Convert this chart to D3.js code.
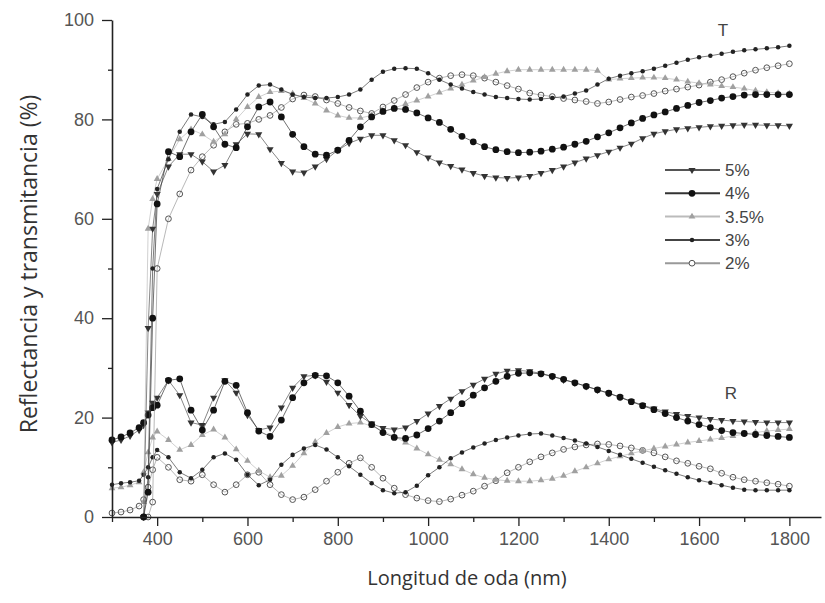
<!DOCTYPE html>
<html>
<head>
<meta charset="utf-8">
<script src="https://cdn.jsdelivr.net/npm/d3@7/dist/d3.min.js"></script>
<style>
  html, body { margin: 0; padding: 0; background: #fff; }
  svg { display: block; }
</style>
</head>
<body>
<svg id="chart" width="825" height="603"></svg>
<script>
// Wavelength grid (nm) shared by every curve
const wavelength = [
  300, 320, 340, 360, 370, 380, 390, 400,
  425, 450, 475, 500, 525, 550, 575, 600, 625, 650,
  675, 700, 725, 750, 775, 800, 825, 850, 875, 900,
  925, 950, 975, 1000, 1025, 1050, 1075, 1100, 1125, 1150,
  1175, 1200, 1225, 1250, 1275, 1300, 1325, 1350, 1375, 1400,
  1425, 1450, 1475, 1500, 1525, 1550, 1575, 1600, 1625, 1650,
  1675, 1700, 1725, 1750, 1775, 1800
];

const concentrations = ["5%", "4%", "3.5%", "3%", "2%"];

// Transmittance (%)
const t5 = [
  null, null, null, null, 0, 38, 58, 65,
  70.5, 73, 73, 71.5, 69.5, 70.8, 75, 77.1, 77, 74,
  71.2, 69.5, 69.3, 70.5, 72, 73.8, 75.2, 76.1, 76.8, 76.8,
  75.8, 74.8, 73.4, 72.3, 71.3, 70.6, 69.9, 69.2, 68.6, 68.3,
  68.2, 68.3, 68.6, 69.2, 69.8, 70.5, 71.3, 72.1, 72.8, 73.5,
  74.3, 75.1, 76.2, 77.1, 77.6, 78, 78.2, 78.4, 78.6, 78.7,
  78.8, 78.9, 78.9, 78.8, 78.8, 78.7
];
const t4 = [
  null, null, null, null, 0, 5, 40, 63,
  73.5, 72.5, 77.5, 81, 78.5, 75, 74.3, 78.5, 82.5, 83.5,
  80.5, 77, 74.5, 73, 72.8, 73.8, 75.8, 78.5, 80.5, 81.6,
  82.2, 82, 81.3, 80.3, 79.4, 78, 76.6, 75.5, 74.5, 73.9,
  73.5, 73.3, 73.4, 73.6, 74, 74.4, 75, 75.6, 76.5, 77.3,
  78.3, 79.3, 80.2, 80.9, 81.5, 82.2, 82.8, 83.4, 83.8, 84.3,
  84.6, 84.9, 85, 85, 85, 85
];
const t35 = [
  null, null, null, null, 3, 58, 64, 68,
  72, 76, 78, 77, 75.5, 77, 80, 82.5, 84.5, 85.5,
  85.7, 85.2, 84.3, 83.2, 81.8, 80.8, 80.3, 80.3, 80.8, 81.5,
  82.3, 83.1, 83.8, 84.6, 85.4, 86.2, 87, 87.8, 88.5, 89.2,
  89.7, 90, 90, 90, 90, 90, 90, 90, 89.8, 88,
  88.2, 88.3, 88.4, 88.4, 88.3, 88, 87.6, 87.3, 87, 86.7,
  86.5, 86.2, 85.8, 85.5, 85.3, 85.2
];
const t3 = [
  null, null, null, null, 0, 8, 50, 66,
  72, 77.5, 81, 80.5, 79, 79.5, 82, 85, 86.8, 87,
  86, 85, 84.5, 84.3, 84.3, 84.5, 85, 86, 88, 89.6,
  90.2, 90.3, 90.2, 89.3, 88, 87, 86.2, 85.5, 85, 84.5,
  84.3, 84.1, 84, 84.1, 84.3, 84.6, 85.2, 85.8, 87, 88.2,
  88.8, 89.3, 89.7, 90.2, 90.8, 91.4, 92, 92.5, 92.8, 93.2,
  93.6, 93.9, 94.1, 94.3, 94.5, 94.8
];
const t2 = [
  null, null, null, null, 0, 0, 3, 50,
  60, 65, 69.8, 72.5, 74.8, 77.5, 79, 79.2, 80, 80.8,
  82.4, 84.1, 84.9, 84.6, 83.9, 83.2, 82.4, 81.7, 81.2, 82.5,
  83.8, 85, 86.4, 87.5, 88.3, 88.8, 89, 88.8, 88.3, 87.5,
  86.8, 86.1, 85.3, 84.9, 84.6, 84.2, 83.9, 83.6, 83.2, 83.5,
  84, 84.5, 84.8, 85.2, 85.7, 86.1, 86.5, 86.9, 87.5, 88,
  88.6, 89.3, 89.9, 90.4, 90.8, 91.2
];

// Reflectance (%)
const r5 = [
  15, 15.5, 16.3, 17.5, 18.5, 21, 23, 24,
  27.5, 24.5, 19, 18.5, 24, 27.5, 25, 20.5, 17.5, 18,
  22, 26, 28.3, 28.5, 27.2, 25, 22.5, 20.3, 18.8, 17.9,
  17.6, 18, 19.3, 20.8, 22.3, 23.8, 25.3, 26.6, 27.8, 28.8,
  29.4, 29.5, 29.3, 28.9, 28.3, 27.6, 27, 26.3, 25.6, 24.9,
  24.1, 23.3, 22.5, 21.8, 21.2, 20.7, 20.3, 20, 19.7, 19.5,
  19.3, 19.2, 19.1, 19, 19, 19
];
const r4 = [
  15.5, 16.1, 16.9, 18, 19, 20.5, 22, 22.5,
  27.5, 27.8, 21.5, 17.5, 21.5, 27.3, 26.5, 21, 17.3, 16.2,
  19.5, 24, 27, 28.5, 28.4, 27, 24.3, 21.3, 18.6, 17,
  16, 15.8, 16.5, 17.8, 19.3, 21, 22.8, 24.5, 26, 27.3,
  28.3, 28.9, 29, 28.8, 28.3, 27.7, 27, 26.3, 25.6, 24.9,
  24.1, 23.2, 22.4, 21.6, 20.8, 20, 19.3, 18.6, 18, 17.4,
  17, 16.8, 16.6, 16.4, 16.2, 16
];
const r35 = [
  5.8, 6, 6.4, 7, 9, 13, 16, 17.2,
  15.5, 13.5, 14.5, 16.5, 17.6, 16, 13.6, 11.3, 9.3, 8,
  8.3, 10.3, 12.8, 15.1, 16.9, 18.1, 18.8, 19, 18.3, 17.3,
  16.2, 15, 13.8, 12.6, 11.5, 10.6, 9.6, 8.6, 7.9, 7.5,
  7.3, 7.2, 7.2, 7.4, 7.7, 8.3, 9.2, 10, 10.8, 11.6,
  12.2, 12.8, 13.3, 13.8, 14.2, 14.6, 15, 15.3, 15.6, 15.9,
  16.3, 16.7, 17, 17.3, 17.5, 17.7
];
const r3 = [
  6.5, 6.8, 7, 7.3, 8.5, 10, 12, 13.5,
  12, 9, 7.8, 9.5, 12, 12.8, 11.5, 8.5, 6.4, 7.5,
  10.5, 12.5, 13.8, 14.5, 13.6, 12, 10.2, 8.5, 6.8, 5.4,
  4.8, 5, 6.3, 8.4, 10, 11.8, 13, 14, 14.8, 15.5,
  16, 16.4, 16.7, 16.8, 16.4, 15.9, 15.4, 14.8, 14.1, 13.3,
  12.5, 11.7, 10.9, 10.1, 9.4, 8.7, 8, 7.4, 6.9, 6.4,
  5.9, 5.5, 5.4, 5.4, 5.4, 5.4
];
const r2 = [
  0.8, 1, 1.4, 2.2, 3.5, 6, 9.5, 12,
  10, 7.5, 7.2, 8.5, 6.5, 5, 6.5, 8.5, 9, 6.5,
  4.5, 3.5, 4, 5.5, 7.2, 9, 10.8, 11.9, 10, 7.8,
  5.8, 4.5, 3.8, 3.3, 3.1, 3.6, 4.4, 5.2, 6.2, 7.3,
  8.9, 10, 11.1, 12.1, 12.9, 13.6, 14.1, 14.5, 14.7, 14.6,
  14.3, 13.9, 13.4, 12.9, 12.1, 11.3, 10.8, 10.2, 9.7, 8.8,
  8, 7.5, 7.2, 6.9, 6.6, 6.2
];

const xMajorTicks = [400, 600, 800, 1000, 1200, 1400, 1600, 1800];
const xMinorTicks = [300, 500, 700, 900, 1100, 1300, 1500, 1700];
const yMajorTicks = [0, 20, 40, 60, 80, 100];
const yMinorTicks = [10, 30, 50, 70, 90];

// Marker and line appearance per concentration
const styles = {
  "5%":   { line: "#555",    symbol: "triDown", fill: "#333", stroke: "none", size: 22 },
  "4%":   { line: "#333",    symbol: "circle",  fill: "#111", stroke: "none", size: 36 },
  "3.5%": { line: "#bbb",    symbol: "triUp",   fill: "#a0a0a0", stroke: "none", size: 20 },
  "3%":   { line: "#444",    symbol: "circle",  fill: "#222", stroke: "none", size: 16 },
  "2%":   { line: "#999",    symbol: "circle",  fill: "none", stroke: "#555", size: 26 }
};

const seriesT = { "5%": t5, "4%": t4, "3.5%": t35, "3%": t3, "2%": t2 };
const seriesR = { "5%": r5, "4%": r4, "3.5%": r35, "3%": r3, "2%": r2 };

const svg = d3.select("#chart");

const x = d3.scaleLinear().domain([300, 1870]).range([112, 821]);
const y = d3.scaleLinear().domain([0, 100]).range([517, 20]);

const drawOrder = ["2%", "3.5%", "5%", "3%", "4%"];

function markerPath(st) {
  const type = st.symbol === "circle" ? d3.symbolCircle : d3.symbolTriangle;
  return d3.symbol().type(type).size(st.size)();
}

const plot = svg.append("g");

function drawSeries(values, key) {
  const st = styles[key];
  const pts = wavelength.map((w, i) => ({ w, v: values[i] })).filter(d => d.v !== null);
  const line = d3.line().x(d => x(d.w)).y(d => y(d.v));
  plot.append("path")
    .datum(pts)
    .attr("fill", "none")
    .attr("stroke", st.line)
    .attr("stroke-width", 0.7)
    .attr("d", line);
  const path = markerPath(st);
  plot.append("g").selectAll("path")
    .data(pts)
    .join("path")
    .attr("d", path)
    .attr("transform", d => `translate(${x(d.w)},${y(d.v)})` + (st.symbol === "triDown" ? " rotate(180)" : ""))
    .attr("fill", st.fill)
    .attr("stroke", st.stroke)
    .attr("stroke-width", 1);
}

drawOrder.forEach(k => drawSeries(seriesR[k], k));
drawOrder.forEach(k => drawSeries(seriesT[k], k));

// Axes
const axisFont = "'Liberation Sans', Arial, sans-serif";

svg.append("g").attr("transform", "translate(112,0)")
  .call(d3.axisLeft(y).tickValues(yMajorTicks).tickSize(10).tickSizeOuter(0).tickPadding(8));
svg.append("g").attr("transform", "translate(112,0)")
  .call(d3.axisLeft(y).tickValues(yMinorTicks).tickSize(4).tickSizeOuter(0).tickFormat(""))
  .select(".domain").remove();

svg.append("g").attr("transform", "translate(0,517)")
  .call(d3.axisBottom(x).tickValues(xMajorTicks).tickSize(9).tickSizeOuter(0).tickPadding(6)
    .tickFormat(d3.format("d")));
svg.append("g").attr("transform", "translate(0,517)")
  .call(d3.axisBottom(x).tickValues(xMinorTicks).tickSize(5).tickSizeOuter(0).tickFormat(""))
  .select(".domain").remove();

svg.selectAll(".domain").attr("stroke", "#222").attr("stroke-width", 1.6);
svg.selectAll(".tick line").attr("stroke", "#222").attr("stroke-width", 1.3);
svg.selectAll(".tick text")
  .attr("font-family", axisFont)
  .attr("font-size", 18)
  .attr("fill", "#555");

// Axis titles
const titleFont = "'Open Sans', 'Noto Sans', sans-serif";
svg.append("text")
  .attr("x", 467).attr("y", 585)
  .attr("text-anchor", "middle")
  .attr("font-family", titleFont)
  .attr("font-size", 20)
  .attr("fill", "#333")
  .text("Longitud de oda (nm)");

svg.append("text")
  .attr("transform", "translate(37,264) rotate(-90)")
  .attr("text-anchor", "middle")
  .attr("font-family", titleFont)
  .attr("font-size", 23)
  .attr("fill", "#333")
  .text("Reflectancia y transmitancia (%)");

// Curve group labels
svg.append("text").attr("x", 723).attr("y", 36)
  .attr("text-anchor", "middle").attr("font-family", axisFont)
  .attr("font-size", 17).attr("fill", "#444").text("T");
svg.append("text").attr("x", 731).attr("y", 399)
  .attr("text-anchor", "middle").attr("font-family", axisFont)
  .attr("font-size", 17).attr("fill", "#444").text("R");

// Legend
const legend = svg.append("g");
concentrations.forEach((k, i) => {
  const st = styles[k];
  const ly = 170 + i * 23.3;
  const g = legend.append("g").attr("transform", `translate(0,${ly})`);
  g.append("line").attr("x1", 665).attr("x2", 720).attr("y1", 0).attr("y2", 0)
    .attr("stroke", st.line).attr("stroke-width", 2);
  g.append("path").attr("d", markerPath(st))
    .attr("transform", "translate(692,0)" + (st.symbol === "triDown" ? " rotate(180)" : ""))
    .attr("fill", st.fill === "none" ? "#fff" : st.fill)
    .attr("stroke", st.stroke).attr("stroke-width", 1);
  g.append("text").attr("x", 725).attr("y", 6)
    .attr("font-family", axisFont).attr("font-size", 17)
    .attr("fill", "#444").text(k);
});
</script>
</body>
</html>
